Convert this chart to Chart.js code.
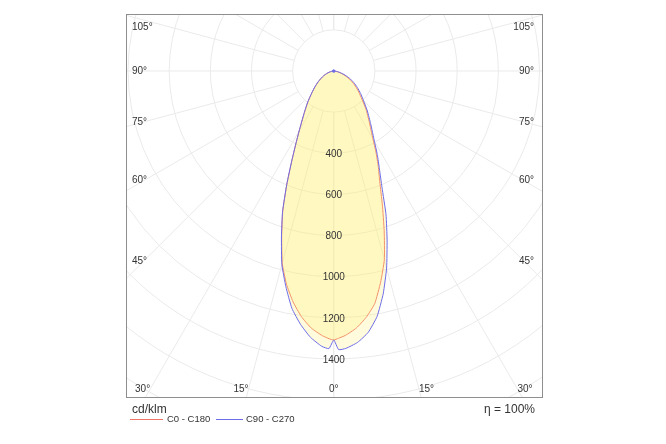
<!DOCTYPE html>
<html>
<head>
<meta charset="utf-8">
<title>Light distribution</title>
<script src="https://cdn.jsdelivr.net/npm/chart.js@4.4.1/dist/chart.umd.min.js"></script>
<style>
    html, body { margin: 0; padding: 0; background: #fff; }
    canvas { display: block; }
</style>
</head>
<body>
<canvas id="ldcChart" width="666" height="444"></canvas>
<script>
// gamma angles (deg from nadir) and intensities in cd/klm for each half plane
const gammaAngles = [0, 1, 2.5, 5, 7.5, 10, 12.5, 15, 17.5, 20, 22.5, 25, 27.5, 30, 35, 40, 45, 50, 55, 60, 65, 70, 75, 80, 85, 90];
const c0Values   = [1308, 1300, 1287, 1255, 1208, 1148, 1052, 950, 815, 690, 584, 512, 444, 380, 300, 244, 193, 158, 128, 100, 72, 48, 28, 13, 4, 0];
const c180Values = [1308, 1302, 1288, 1255, 1205, 1140, 1062, 968, 842, 725, 595, 482, 398, 335, 250, 195, 150, 118, 92, 70, 52, 36, 22, 10, 3, 0];
const c90Values  = [1308, 1355, 1350, 1325, 1282, 1212, 1110, 992, 862, 742, 612, 525, 458, 395, 312, 254, 205, 170, 140, 112, 85, 58, 35, 18, 6, 0];
const c270Values = [1308, 1350, 1340, 1300, 1242, 1172, 1075, 975, 846, 728, 598, 485, 400, 337, 252, 197, 152, 120, 94, 72, 54, 37, 23, 10, 3, 0];

// grid
const ringValues = [200, 400, 600, 800, 1000, 1200, 1400, 1600, 1800, 2000, 2200];
const ringLabels = [400, 600, 800, 1000, 1200, 1400];
const spokeAngles = [0, 15, 30, 45, 60, 75, 90, 105, 120, 135, 150, 165, 180];
const angleLabels = [0, 15, 30, 45, 60, 75, 90, 105];

const seriesNames = ['C0 - C180', 'C90 - C270'];
const RED = '#f07468';
const BLUE = '#6c6ce8';
const FILL = 'rgba(255, 240, 110, 0.24)';
const TEXT = '#333';
const FONT = '"Liberation Sans", Arial, sans-serif';

// closed outline: left half plane from 90 down to 0, then right half plane back up to 90
function toXY(gamma, value, side) {
    const rad = gamma * Math.PI / 180;
    return { x: side * value * Math.sin(rad), y: -value * Math.cos(rad) };
}

function buildLoop(leftValues, rightValues) {
    const pts = [];
    for (let i = gammaAngles.length - 1; i >= 0; i--) pts.push(toXY(gammaAngles[i], leftValues[i], -1));
    for (let i = 1; i < gammaAngles.length; i++) pts.push(toXY(gammaAngles[i], rightValues[i], 1));
    return pts;
}

const polarGrid = {
    id: 'polarGrid',
    beforeDatasetsDraw(chart) {
        const { ctx, chartArea: a, scales: { x, y } } = chart;
        const cx = x.getPixelForValue(0);
        const cy = y.getPixelForValue(0);
        const k = (x.getPixelForValue(1000) - cx) / 1000;

        ctx.save();
        ctx.beginPath();
        ctx.rect(a.left, a.top, a.right - a.left, a.bottom - a.top);
        ctx.clip();
        ctx.strokeStyle = '#eaeaea';
        ctx.lineWidth = 1;

        ringValues.forEach(v => {
            ctx.beginPath();
            ctx.arc(cx, cy, v * k, 0, Math.PI * 2);
            ctx.stroke();
        });

        const r0 = ringValues[0] * k;
        const r1 = ringValues[ringValues.length - 1] * k;
        spokeAngles.forEach(g => {
            const rad = g * Math.PI / 180;
            [-1, 1].forEach(side => {
                const sx = side * Math.sin(rad), sy = Math.cos(rad);
                ctx.beginPath();
                ctx.moveTo(cx + sx * r0, cy + sy * r0);
                ctx.lineTo(cx + sx * r1, cy + sy * r1);
                ctx.stroke();
            });
        });
        ctx.restore();
    },
    afterDatasetsDraw(chart) {
        const { ctx, chartArea: a, scales: { x, y } } = chart;
        const cx = x.getPixelForValue(0);
        const cy = y.getPixelForValue(0);
        const k = (x.getPixelForValue(1000) - cx) / 1000;

        ctx.save();
        // frame
        ctx.strokeStyle = '#8e8e8e';
        ctx.lineWidth = 1;
        ctx.strokeRect(a.left + 0.5, a.top + 0.5, a.right - a.left - 1, a.bottom - a.top - 1);

        ctx.fillStyle = TEXT;
        ctx.font = '10px ' + FONT;
        ctx.textBaseline = 'middle';

        // intensity labels along nadir
        ctx.textAlign = 'center';
        ringLabels.forEach(v => ctx.fillText(String(v), cx, cy + v * k + 1));

        // angle labels: sides where the ray meets an inset line, bottom where it meets the base line
        const inset = 190;
        const yB = a.bottom - 9, yT = a.top + 13;
        angleLabels.forEach(g => {
            const rad = g * Math.PI / 180;
            const s = Math.sin(rad), c = Math.cos(rad);
            const sides = g === 0 ? [0] : [-1, 1];
            sides.forEach(side => {
                const tSide = s > 0 ? inset / s : Infinity;
                const tBottom = c > 0 ? (yB - cy) / c : Infinity;
                if (tBottom < tSide) {
                    ctx.textAlign = side === 0 ? 'center' : (side < 0 ? 'right' : 'left');
                    ctx.fillText(g + '°', cx + side * tBottom * s, yB);
                } else {
                    const py = Math.max(yT, cy + tSide * c);
                    ctx.textAlign = side < 0 ? 'left' : 'right';
                    ctx.fillText(g + '°', side < 0 ? a.left + 6 : a.right - 9, py);
                }
            });
        });

        // footer
        ctx.font = '12px ' + FONT;
        ctx.textAlign = 'left';
        ctx.fillText('cd/klm', a.left + 6, a.bottom + 12);
        ctx.textAlign = 'right';
        ctx.fillText('η = 100%', a.right - 8, a.bottom + 12);

        // legend
        const legendY = a.bottom + 21.5;
        const legendItems = [
            { color: RED, x0: 130, x1: 163, tx: 167 },
            { color: BLUE, x0: 216, x1: 243, tx: 246 }
        ];
        ctx.font = '9.5px ' + FONT;
        ctx.textAlign = 'left';
        legendItems.forEach((item, i) => {
            ctx.strokeStyle = item.color;
            ctx.beginPath();
            ctx.moveTo(item.x0, legendY);
            ctx.lineTo(item.x1, legendY);
            ctx.stroke();
            ctx.fillStyle = TEXT;
            ctx.fillText(seriesNames[i], item.tx, legendY);
        });
        ctx.restore();
    }
};

const ctx = document.getElementById('ldcChart').getContext('2d');
new Chart(ctx, {
    type: 'scatter',
    data: {
        datasets: [
            {
                label: seriesNames[0],
                data: buildLoop(c180Values, c0Values),
                showLine: true,
                borderColor: RED,
                borderWidth: 1,
                backgroundColor: FILL,
                fill: 'shape',
                tension: 0.15,
                pointRadius: 0,
                order: 2
            },
            {
                label: seriesNames[1],
                data: buildLoop(c270Values, c90Values),
                showLine: true,
                borderColor: BLUE,
                borderWidth: 1,
                backgroundColor: FILL,
                fill: 'shape',
                tension: 0.15,
                pointRadius: c => (c.raw && c.raw.x === 0 && c.raw.y === 0 ? 1.5 : 0),
                pointBackgroundColor: BLUE,
                pointBorderWidth: 0,
                order: 1
            }
        ]
    },
    options: {
        responsive: false,
        animation: false,
        devicePixelRatio: 1,
        layout: { padding: { left: 126, right: 123, top: 14, bottom: 46 } },
        scales: {
            x: { type: 'linear', min: -1010, max: 1017, display: false },
            y: { type: 'linear', min: -1590, max: 277, display: false }
        },
        plugins: {
            legend: { display: false },
            tooltip: { enabled: false }
        }
    },
    plugins: [polarGrid]
});
</script>
</body>
</html>
